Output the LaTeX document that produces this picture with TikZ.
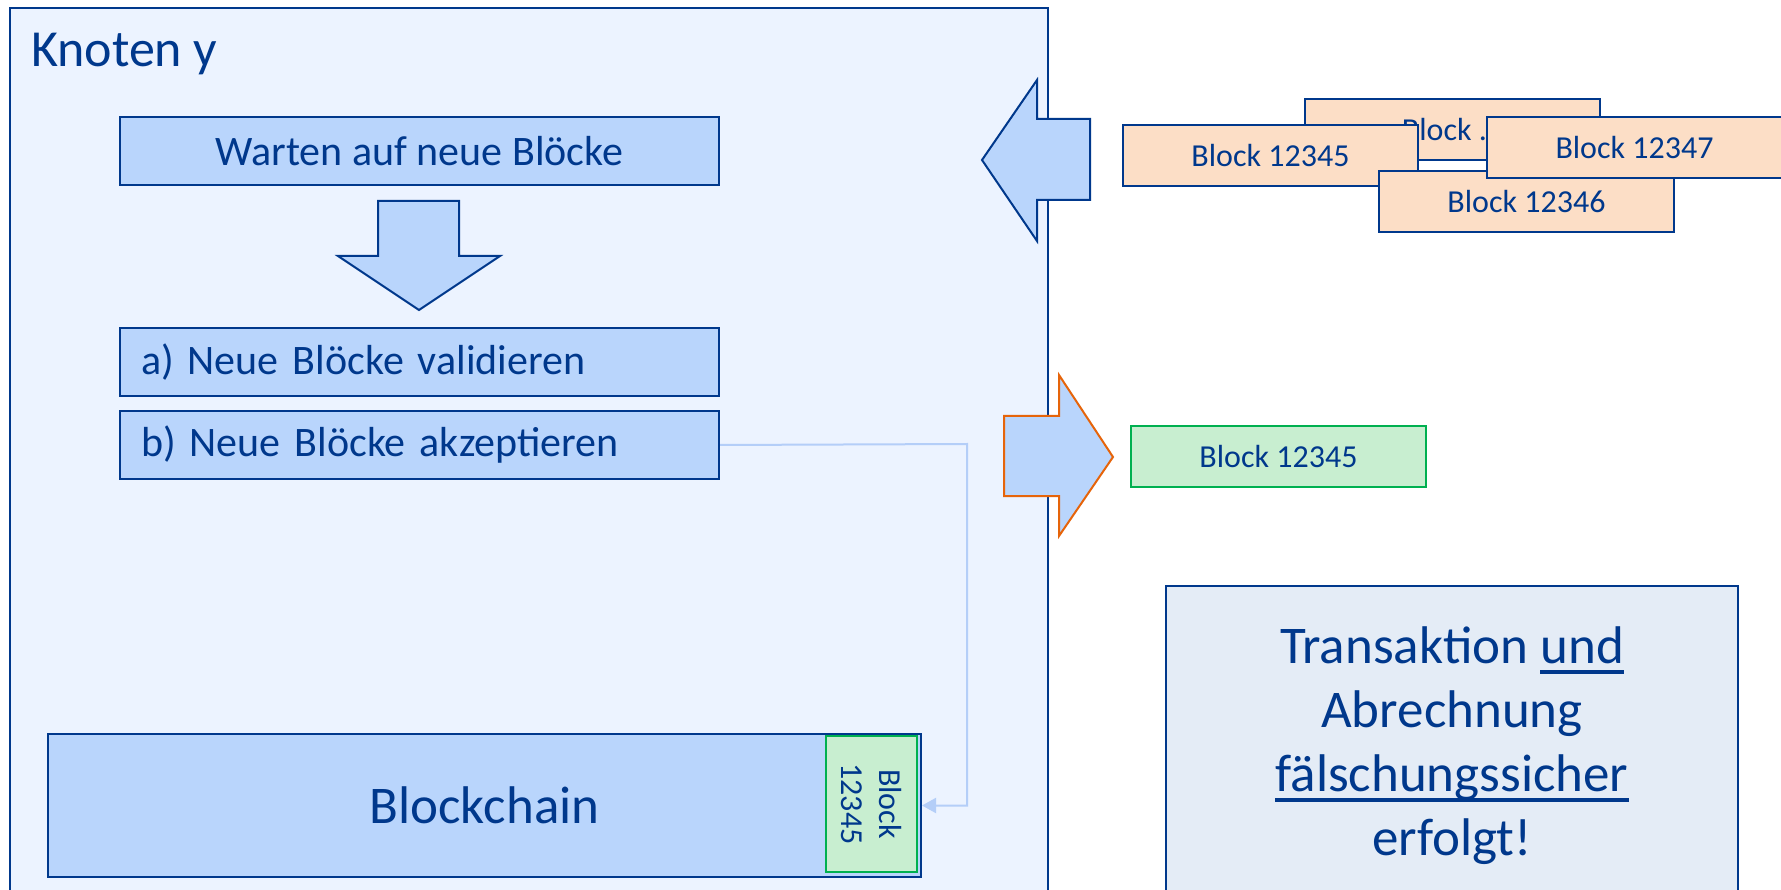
\documentclass[tikz,border=0pt]{standalone}
\usepackage{fontspec}
\setmainfont{Carlito}
\usetikzlibrary{arrows.meta}
\definecolor{deepblue}{RGB}{0,56,140}
\definecolor{boxblue}{RGB}{185,213,252}
\definecolor{paleblue}{RGB}{236,243,255}
\definecolor{greyblue}{RGB}{228,236,246}
\definecolor{peach}{RGB}{252,222,198}
\definecolor{mint}{RGB}{200,238,208}
\definecolor{leafgreen}{RGB}{0,176,80}
\definecolor{rust}{RGB}{230,100,10}
\definecolor{linkblue}{RGB}{180,206,248}
\newsavebox{\ulbox}
\newcommand{\ulword}[1]{\sbox{\ulbox}{#1}\rlap{\rule[-10pt]{\wd\ulbox}{3.5pt}}\usebox{\ulbox}}
\tikzset{
  stepbox/.style={draw=deepblue, fill=boxblue, line width=2pt, minimum width=599pt,
    minimum height=68pt, anchor=north west, inner sep=0pt, text=deepblue,
    font=\fontsize{42}{50}\selectfont},
  stepleft/.style={stepbox, text width=557pt, align=left, inner xsep=21pt},
  blockbox/.style={draw=deepblue, fill=peach, line width=2pt, minimum width=295pt,
    minimum height=61pt, anchor=north west, inner sep=0pt, text=deepblue,
    font=\fontsize{32}{38}\selectfont},
  bigarrow/.style={draw=deepblue, fill=boxblue, line width=2pt, line join=miter},
  link/.style={draw=linkblue, line width=2pt, -{Triangle[length=14pt,width=15pt]}}
}
\begin{document}
\begin{tikzpicture}[x=1pt, y=-1pt]
      \clip (0,0) rectangle (1781,890);
      \fill [white] (0,0) rectangle (1781,890);
      % node y
      \draw [draw=deepblue, fill=paleblue, line width=2pt] (10,8) rectangle (1048,900);
      \node [anchor=base west, inner sep=0pt, text=deepblue, font=\fontsize{52}{62}\selectfont] (title) at (31,67) {Knoten y};
      \node [stepbox] (wait) at (119,116) {Warten auf neue Blöcke};
      \draw [bigarrow] (378,201) -- (459,201) -- (459,256) -- (500,256) -- (419,310) -- (338,256) -- (378,256) -- cycle;
      \node [stepleft] (check) at (119,327) {a) Neue Blöcke validieren};
      \node [stepleft] (accept) at (119,410) {b) Neue Blöcke akzeptieren};
      \node [draw=deepblue, fill=boxblue, line width=2pt, minimum width=873pt, minimum height=143pt, anchor=north west, text=deepblue, font=\fontsize{53}{64}\selectfont] (chain) at (47,733) {Blockchain};
      \node [draw=leafgreen, fill=mint, line width=2pt, rotate=-90, minimum width=136pt, minimum height=91pt, inner sep=0pt, align=center, text=deepblue, font=\fontsize{32}{38}\selectfont] (tail) at (871.5,804) {Block\\12345};
      \coordinate (turn) at (967,444);
      \draw [link] (accept.east) -- (turn) |- (chain.east);
      % incoming blocks
      \draw [bigarrow] (1090,119) -- (1037,119) -- (1037,80) -- (982,160) -- (1037,241) -- (1037,200) -- (1090,200) -- cycle;
      \node [blockbox] (bdots) at (1304,98) {Block ...};
      \node [blockbox] (b45) at (1122,124) {Block 12345};
      \node [blockbox] (b46) at (1378,170) {Block 12346};
      \node [blockbox] (b47) at (1486,116) {Block 12347};
      % accepted block
      \draw [bigarrow, draw=rust] (1004,416) -- (1059,416) -- (1059,375) -- (1113,457) -- (1059,536) -- (1059,496) -- (1004,496) -- cycle;
      \node [blockbox, fill=mint, draw=leafgreen] (fresh) at (1130,425) {Block 12345};
      % result
      \draw [draw=deepblue, fill=greyblue, line width=2pt] (1166,586) rectangle (1738,900);
      \node [align=center, text=deepblue, font=\fontsize{53}{64}\selectfont] (result) at (1452,746) {Transaktion \ulword{und}\\Abrechnung\\\ulword{fälschungssicher}\\erfolgt!};
\end{tikzpicture}
\end{document}
